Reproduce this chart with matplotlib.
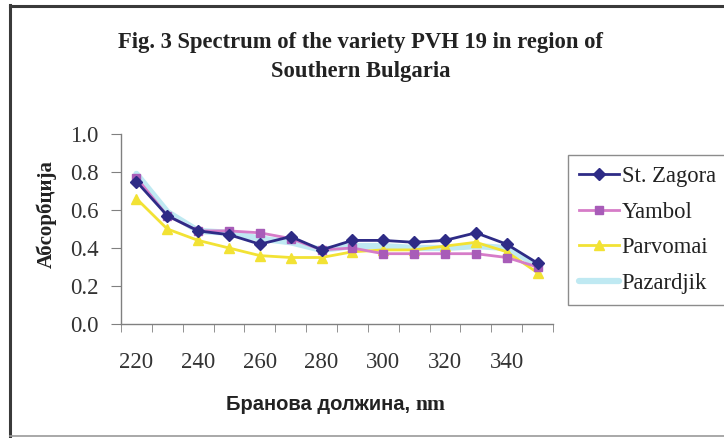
import matplotlib
matplotlib.use("Agg")
import matplotlib.pyplot as plt
from matplotlib.lines import Line2D
import numpy as np

wavelengths = [220, 230, 240, 250, 260, 270, 280, 290, 300, 310, 320, 330, 340, 350]
st_zagora = [0.75, 0.57, 0.49, 0.47, 0.42, 0.46, 0.39, 0.44, 0.44, 0.43, 0.44, 0.48, 0.42, 0.32]
yambol    = [0.77, 0.57, 0.49, 0.49, 0.48, 0.45, 0.39, 0.40, 0.37, 0.37, 0.37, 0.37, 0.35, 0.30]
parvomai  = [0.66, 0.50, 0.44, 0.40, 0.36, 0.35, 0.35, 0.38, 0.39, 0.39, 0.41, 0.43, 0.38, 0.27]
pazardjik = [0.79, 0.59, 0.49, 0.48, 0.45, 0.43, 0.39, 0.41, 0.41, 0.40, 0.40, 0.41, 0.40, 0.31]
y_ticks = [0.0, 0.2, 0.4, 0.6, 0.8, 1.0]
title = "Fig. 3 Spectrum of the variety PVH 19 in region of\nSouthern Bulgaria"

W, H = 724, 438
fig = plt.figure(figsize=(W / 100, H / 100), dpi=100)
fig.patch.set_facecolor("white")

def fx(px):
    return px / W

def fy(py):
    return 1 - py / H

# outer frame
fig.add_artist(Line2D([fx(10), fx(10)], [fy(5), fy(436)], color="#3a3a3a", lw=2.2))
fig.add_artist(Line2D([fx(10), fx(724)], [fy(5.5), fy(5.5)], color="#3a3a3a", lw=2.2))
fig.add_artist(Line2D([fx(10), fx(724)], [fy(436), fy(436)], color="#9a9a9a", lw=1.2))

ax_l, ax_r, ax_t, ax_b = 121, 553, 134, 324
ax = fig.add_axes([fx(ax_l), fy(ax_b), (ax_r - ax_l) / W, (ax_b - ax_t) / H])
ax.set_facecolor("white")

x = np.arange(len(wavelengths))
ax.plot(x, pazardjik, color="#bfe9f2", lw=4.5, solid_capstyle="round", zorder=2, label="Pazardjik")
ax.plot(x, parvomai, color="#f2e234", lw=2.0, marker="^", ms=7, zorder=3, label="Parvomai")
ax.plot(x, yambol, color="#d67cc8", lw=2.0, marker="s", ms=6, mfc="#a85cb8", mec="#a85cb8", zorder=4, label="Yambol")
ax.plot(x, st_zagora, color="#2e2b86", lw=2.0, marker="D", ms=6, zorder=5, label="St. Zagora")

ax.set_xlim(-0.5, len(wavelengths) - 0.5)
ax.set_ylim(0, 1.0)
ax.set_yticks(y_ticks)
ax.set_yticklabels([f"{v:.1f}" for v in y_ticks])
ax.set_xticks(x[::2])
ax.set_xticklabels([str(w) for w in wavelengths[::2]])
ax.set_xticks(np.arange(len(wavelengths) + 1) - 0.5, minor=True)
ax.tick_params(axis="x", which="major", length=0, pad=20)
ax.tick_params(axis="x", which="minor", length=6, color="#808080", direction="out")
ax.tick_params(axis="y", length=7, color="#808080", direction="out", pad=9)
for lab in ax.get_xticklabels() + ax.get_yticklabels():
    lab.set_fontfamily("Liberation Serif")
    lab.set_fontsize(16.5)
    lab.set_color("#333333")

for s in ["top", "right"]:
    ax.spines[s].set_visible(False)
for s in ["left", "bottom"]:
    ax.spines[s].set_color("#808080")
    ax.spines[s].set_linewidth(1.0)

fig.text(fx(361), fy(57), title, ha="center", va="center", fontsize=16.3,
         fontfamily="Liberation Serif", fontweight="bold", color="#222222", linespacing=1.45)

fig.text(fx(47), fy(214), "Абсорбција", rotation=90, ha="center", va="center",
         fontsize=15, fontfamily="Liberation Serif", fontweight="bold", color="#222222")

# x label: Cyrillic part in sans, "nm" in serif
renderer = fig.canvas.get_renderer()
t1 = fig.text(0, fy(405), "Бранова должина, ", ha="left", va="center",
              fontsize=14.5, fontfamily="Liberation Sans", fontweight="bold", color="#222222")
t2 = fig.text(0, fy(405), "nm", ha="left", va="center",
              fontsize=15.5, fontfamily="Liberation Serif", fontweight="bold", color="#222222")
w1 = t1.get_window_extent(renderer).width
w2 = t2.get_window_extent(renderer).width
start = 336 - (w1 + w2) / 2
t1.set_x(fx(start))
t2.set_x(fx(start + w1))

handles, labels = ax.get_legend_handles_labels()
order = [3, 2, 1, 0]
leg = fig.legend([handles[i] for i in order], [labels[i] for i in order],
                 loc="upper left", bbox_to_anchor=(fx(568), fy(155)),
                 frameon=True, fancybox=False, edgecolor="#707070",
                 prop={"family": "Liberation Serif", "size": 16.3},
                 handlelength=1.75, handletextpad=0.12, labelspacing=0.64,
                 borderpad=0.5, borderaxespad=0)
for t in leg.get_texts():
    t.set_color("#222222")
leg.get_frame().set_linewidth(1.0)

fig.savefig("out.png", dpi=100, facecolor="white")
